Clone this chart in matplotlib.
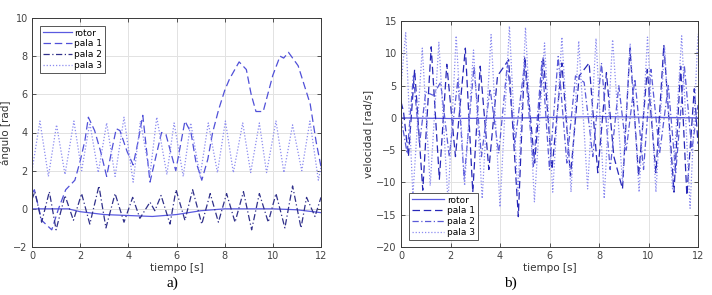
import matplotlib
matplotlib.use("Agg")
import matplotlib.pyplot as plt

# ---------------- data: panel a) angle ----------------
rotor_a_t = [0, 1.5, 2, 3, 4, 5, 6, 7, 8, 9, 10, 11, 12]
rotor_a_v = [0, 0, -0.15, -0.3, -0.35, -0.4, -0.3, -0.1, 0, 0, 0, -0.05, -0.2]

pala1_a_t = [0, 0.1, 0.4, 0.82, 1.1, 1.4, 1.78, 2.0, 2.2, 2.34, 2.6, 2.85, 3.1, 3.3, 3.5,
             3.65, 3.95, 4.2, 4.4, 4.6, 4.9, 5.1, 5.38, 5.56, 5.97, 6.35, 6.6, 6.8, 7.05,
             7.3, 7.5, 7.75, 8.0, 8.2, 8.6, 8.9, 9.1, 9.3, 9.6, 10.0, 10.3, 10.45, 10.65,
             11.05, 11.3, 11.55, 11.8, 12.0]
pala1_a_v = [0.8, 1.0, -0.6, -1.1, 0.0, 1.0, 1.5, 2.5, 3.6, 4.8, 4.1, 3.0, 1.7, 3.0, 4.2,
             4.1, 3.0, 2.3, 3.5, 4.9, 1.4, 2.5, 4.0, 3.9, 2.0, 4.6, 4.0, 2.5, 1.5,
             2.6, 4.0, 5.2, 6.2, 6.8, 7.7, 7.3, 6.0, 5.1, 5.1, 7.0, 8.0, 7.9, 8.2,
             7.5, 6.5, 5.5, 3.5, 2.2]

pala2_a_t = [0, 0.12, 0.4, 0.72, 1.0, 1.37, 1.72, 2.06, 2.4, 2.78, 3.07, 3.45, 3.82, 4.18,
             4.48, 4.9, 5.1, 5.36, 5.73, 5.98, 6.35, 6.67, 7.05, 7.4, 7.74, 8.08, 8.43,
             8.78, 9.12, 9.44, 9.81, 10.13, 10.5, 10.82, 11.17, 11.4, 11.75, 12.0]
pala2_a_v = [0.5, 0.9, -0.7, 0.9, -1.1, 0.7, -0.6, 0.8, -0.8, 1.2, -1.0, 0.8, -0.7, 0.6,
             -0.5, 0.35, -0.1, 0.7, -0.8, 1.0, -0.6, 1.0, -0.8, 0.8, -0.7, 0.8, -0.7,
             0.9, -1.1, 0.8, -0.7, 0.8, -1.0, 1.2, -1.0, 0.6, -0.4, 0.6]

pala3_a_t = [0, 0.33, 0.68, 1.02, 1.37, 1.74, 2.06, 2.4, 2.75, 3.1, 3.45, 3.82, 4.2, 4.5,
             4.9, 5.18, 5.6, 5.9, 6.28, 6.59, 6.98, 7.32, 7.7, 8.03, 8.36, 8.75, 9.08,
             9.44, 9.74, 10.13, 10.46, 10.82, 11.2, 11.54, 11.89, 12.0]
pala3_a_v = [2.0, 4.6, 1.7, 4.4, 1.8, 4.6, 2.0, 4.5, 1.9, 4.5, 1.7, 4.8, 1.4, 4.6,
             1.8, 4.8, 1.8, 4.5, 1.7, 4.5, 1.7, 4.5, 1.9, 4.6, 1.9, 4.5, 1.9,
             4.5, 1.9, 4.6, 1.9, 4.4, 2.0, 4.6, 1.5, 2.2]

# ---------------- data: panel b) velocity ----------------
rotor_b_t = [0, 2, 5, 8, 10, 12]
rotor_b_v = [0, -0.1, 0, 0.2, 0.1, 0]

pala1_b_t = [0, 0.1, 0.3, 0.55, 0.88, 1.22, 1.55, 1.85, 2.2, 2.6, 2.9, 3.2, 3.55, 3.9,
             4.35, 4.74, 5.0, 5.4, 5.75, 6.1, 6.5, 6.85, 7.2, 7.6, 7.95, 8.3, 8.6, 8.95,
             9.25, 9.6, 9.95, 10.3, 10.62, 11.03, 11.3, 11.55, 11.85, 12.0]
pala1_b_v = [2.5, 1.0, -6.0, 7.5, -11.2, 11.0, -9.5, 8.3, -6.0, 10.8, -11.5, 8.0, -8.0, 6.5,
             9.0, -15.3, 9.5, -7.0, 9.5, -8.0, 8.5, -9.0, 6.5, 8.5, -8.5, 7.0, -6.0, -11.0,
             10.8, -9.0, 7.5, -8.5, 11.3, -11.5, 8.0, -12.0, 4.5, -4.0]

pala2_b_t = [0, 0.25, 0.5, 0.75, 1.0, 1.3, 1.6, 1.95, 2.3, 2.55, 2.95, 3.25, 3.6, 3.95,
             4.3, 4.6, 5.0, 5.35, 5.7, 6.0, 6.35, 6.7, 7.05, 7.4, 7.75, 8.1, 8.45, 8.8,
             9.1, 9.45, 9.8, 10.1, 10.45, 10.8, 11.1, 11.45, 11.75, 12.0]
pala2_b_v = [0.0, -5.5, 6.5, -4.0, 4.0, 3.5, 5.5, -6.0, 6.0, -9.5, 8.0, -6.0, 4.5, -5.5,
             8.5, -4.0, 8.5, -7.5, 9.0, -8.0, 9.5, -7.0, 6.5, 5.5, -6.0, 8.5, -8.0, 5.0,
             -5.0, 6.0, -8.0, 7.5, -5.5, 5.0, -8.5, 8.0, -5.0, 2.0]

pala3_b_t = [0, 0.19, 0.48, 0.86, 1.18, 1.53, 1.9, 2.23, 2.57, 2.93, 3.28, 3.64, 4.0, 4.38,
             4.72, 5.03, 5.39, 5.8, 6.13, 6.5, 6.87, 7.18, 7.54, 7.88, 8.21, 8.55, 8.95,
             9.26, 9.62, 9.96, 10.3, 10.65, 10.97, 11.34, 11.68, 12.0]
pala3_b_v = [5.0, 13.2, -12.0, 10.8, -10.5, 11.7, -13.0, 12.7, -10.5, 10.5, -12.5, 12.9, -13.8, 14.2,
             -12.0, 14.0, -13.0, 11.6, -11.5, 12.5, -11.5, 11.9, -11.0, 12.3, -12.5, 12.1, -10.0,
             11.5, -11.5, 12.5, -11.5, 11.0, -11.0, 12.7, -14.0, 13.0]

labels = ["rotor", "pala 1", "pala 2", "pala 3"]

# ---------------- figure ----------------
fig = plt.figure(figsize=(7.12, 2.95), dpi=100)
fig.patch.set_facecolor("white")

axA = fig.add_axes([32/712, 1-247/295, (321-32)/712, (247-18)/295])
axB = fig.add_axes([401/712, 1-247/295, (698-401)/712, (247-21)/295])

c_rotor = "#5a5ae0"
c_p1a = "#5050d8"
c_p2a = "#30308a"
c_p3 = "#8c8cf0"
c_p1b = "#2828b8"
c_p2b = "#5a5ad8"

lw = 0.9
axA.plot(rotor_a_t, rotor_a_v, color=c_rotor, lw=lw, ls="-", label=labels[0])
axA.plot(pala1_a_t, pala1_a_v, color=c_p1a, lw=lw, ls=(0, (6, 3)), label=labels[1])
axA.plot(pala2_a_t, pala2_a_v, color=c_p2a, lw=lw, ls=(0, (5, 2, 1, 2)), label=labels[2])
axA.plot(pala3_a_t, pala3_a_v, color=c_p3, lw=lw, ls=(0, (1, 1.5)), label=labels[3])

axB.plot(rotor_b_t, rotor_b_v, color=c_rotor, lw=lw, ls="-", label=labels[0])
axB.plot(pala1_b_t, pala1_b_v, color=c_p1b, lw=lw, ls=(0, (6, 3)), label=labels[1])
axB.plot(pala2_b_t, pala2_b_v, color=c_p2b, lw=lw, ls=(0, (5, 2, 1, 2)), label=labels[2])
axB.plot(pala3_b_t, pala3_b_v, color=c_p3, lw=lw, ls=(0, (1, 1.5)), label=labels[3])

for ax, ylim, yticks, ylabel in [
        (axA, (-2, 10), range(-2, 11, 2), "ángulo [rad]"),
        (axB, (-20, 15), range(-20, 16, 5), "velocidad [rad/s]")]:
    ax.set_xlim(0, 12)
    ax.set_ylim(*ylim)
    ax.set_xticks(range(0, 13, 2))
    ax.set_yticks(list(yticks))
    ax.grid(True, color="#e2e2e2", lw=0.7)
    ax.set_axisbelow(True)
    for s in ax.spines.values():
        s.set_color("#3a3a3a")
        s.set_linewidth(0.7)
    ax.tick_params(direction="in", length=3, width=0.6, color="#3a3a3a",
                   labelsize=7, labelcolor="#444444", top=True, right=True, pad=3)
    ax.set_xlabel("tiempo [s]", fontsize=7.5, color="#333333", labelpad=1)
    ax.set_ylabel(ylabel, fontsize=7.5, color="#333333", labelpad=2)

legA = axA.legend(loc="upper left", fontsize=6.5, frameon=True, fancybox=False,
                  edgecolor="#555555", framealpha=1, handlelength=3.2,
                  borderpad=0.3, labelspacing=0.2, handletextpad=0.3,
                  bbox_to_anchor=(0.012, 0.985))
legA.get_frame().set_linewidth(0.7)
legB = axB.legend(loc="lower left", fontsize=6.5, frameon=True, fancybox=False,
                  edgecolor="#555555", framealpha=1, handlelength=3.6,
                  borderpad=0.3, labelspacing=0.2, handletextpad=0.3,
                  bbox_to_anchor=(0.012, 0.012))
legB.get_frame().set_linewidth(0.7)

fig.text(172/712, 1-283/295, "a)", fontsize=11, family="Liberation Serif",
         ha="center", va="center")
fig.text(510/712, 1-283/295, "b)", fontsize=11, family="Liberation Serif",
         ha="center", va="center")

fig.savefig("out.png", dpi=100)
